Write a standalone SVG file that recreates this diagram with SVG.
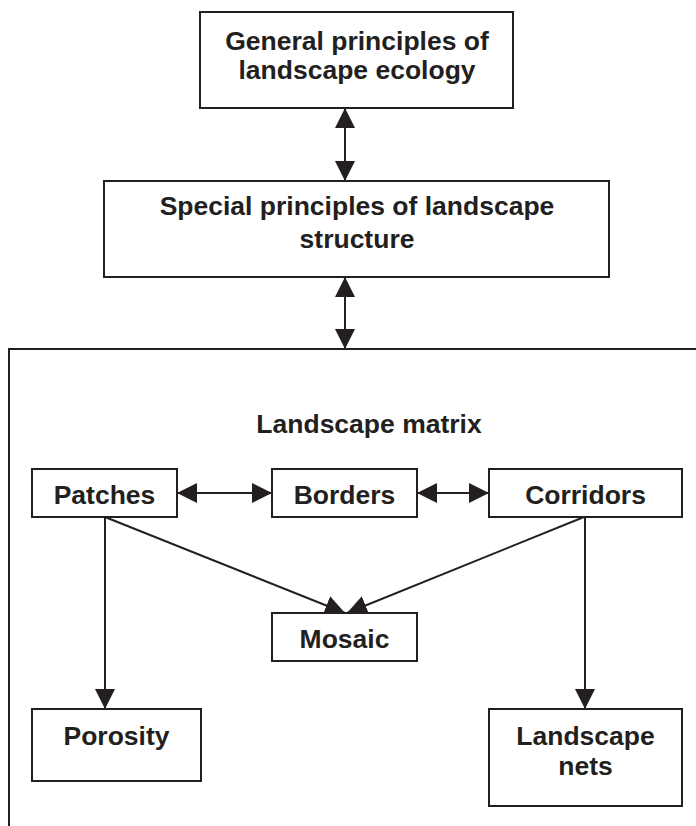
<svg xmlns="http://www.w3.org/2000/svg" width="696" height="826" viewBox="0 0 696 826">
<defs>
<style>
.box{fill:#fff;stroke:#231f20;stroke-width:2}
.t{font-family:"Liberation Sans",Arial,sans-serif;font-weight:bold;font-size:26.5px;fill:#231f20;text-anchor:middle}
.c{stroke:#231f20;stroke-width:2;fill:none}
</style>
<marker id="ah" viewBox="0 0 20 20" refX="20" refY="10" markerWidth="20" markerHeight="20" markerUnits="userSpaceOnUse" orient="auto-start-reverse">
<path d="M0,0 L20,10 L0,20 Z" fill="#231f20"/>
</marker>
</defs>
<rect width="696" height="826" fill="#fff"/>
<g id="matrix">
<path class="c" d="M9,826 V349 H696"/>
<text class="t" x="369" y="433">Landscape matrix</text>
</g>
<g id="connectors">
<line class="c" x1="345" y1="108" x2="345" y2="181" marker-start="url(#ah)" marker-end="url(#ah)"/>
<line class="c" x1="345" y1="277" x2="345" y2="349" marker-start="url(#ah)" marker-end="url(#ah)"/>
<line class="c" x1="177" y1="493" x2="272" y2="493" marker-start="url(#ah)" marker-end="url(#ah)"/>
<line class="c" x1="417" y1="493" x2="489" y2="493" marker-start="url(#ah)" marker-end="url(#ah)"/>
<line class="c" x1="105" y1="517" x2="105" y2="709" marker-end="url(#ah)"/>
<line class="c" x1="585" y1="517" x2="585" y2="709" marker-end="url(#ah)"/>
<line class="c" x1="105" y1="517" x2="345" y2="613" marker-end="url(#ah)"/>
<line class="c" x1="584" y1="517" x2="347" y2="613" marker-end="url(#ah)"/>
</g>
<g id="general">
<rect class="box" x="200" y="12" width="313" height="96"/>
<text class="t" x="357" y="50">General principles of</text>
<text class="t" x="357" y="79">landscape ecology</text>
</g>
<g id="special">
<rect class="box" x="104" y="181" width="505" height="96"/>
<text class="t" x="357" y="215">Special principles of landscape</text>
<text class="t" x="357" y="248">structure</text>
</g>
<g id="patches">
<rect class="box" x="32" y="469" width="145" height="48"/>
<text class="t" x="104.5" y="504">Patches</text>
</g>
<g id="borders">
<rect class="box" x="272" y="469" width="145" height="48"/>
<text class="t" x="344.5" y="504">Borders</text>
</g>
<g id="corridors">
<rect class="box" x="489" y="469" width="193" height="48"/>
<text class="t" x="585.5" y="504">Corridors</text>
</g>
<g id="mosaic">
<rect class="box" x="272" y="613" width="145" height="48"/>
<text class="t" x="344.5" y="648">Mosaic</text>
</g>
<g id="porosity">
<rect class="box" x="32" y="709" width="169" height="72"/>
<text class="t" x="116.5" y="745">Porosity</text>
</g>
<g id="nets">
<rect class="box" x="489" y="709" width="193" height="97"/>
<text class="t" x="585.5" y="745">Landscape</text>
<text class="t" x="585.5" y="775">nets</text>
</g>
</svg>
